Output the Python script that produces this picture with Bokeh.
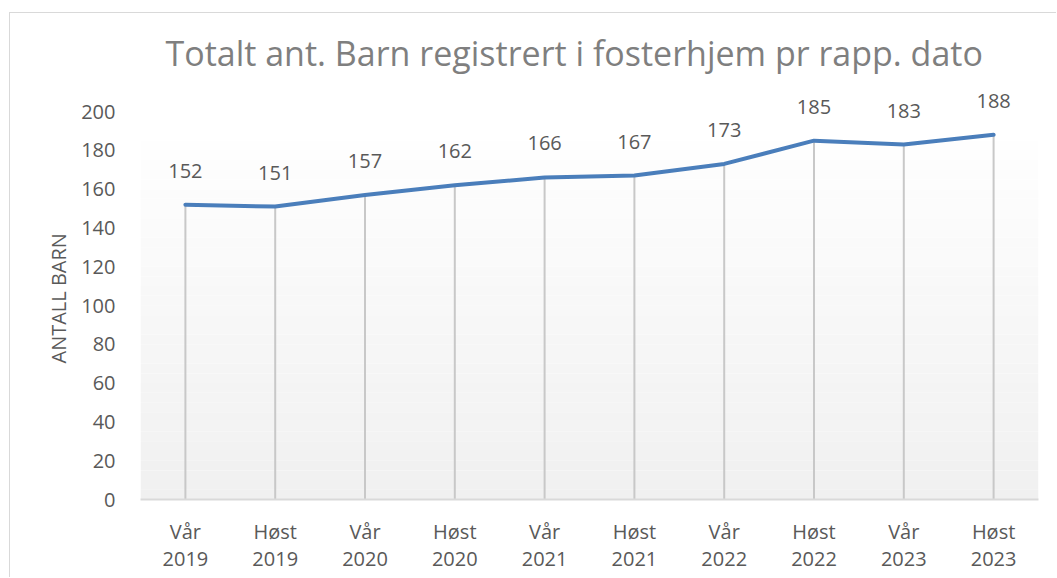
from bokeh.plotting import figure
from bokeh.models import (FactorRange, Range1d, BoxAnnotation, FixedTicker,
                          ColumnDataSource, Title)
from bokeh.core.properties import value
from bokeh.embed import file_html
from bokeh.resources import INLINE

# ---- data ----
periods = ["Vår\n2019", "Høst\n2019", "Vår\n2020", "Høst\n2020", "Vår\n2021",
           "Høst\n2021", "Vår\n2022", "Høst\n2022", "Vår\n2023", "Høst\n2023"]
antall_barn = [152, 151, 157, 162, 166, 167, 173, 185, 183, 188]
y_ticks = [0, 20, 40, 60, 80, 100, 120, 140, 160, 180, 200]

title_text = "Totalt ant. Barn registrert i fosterhjem pr rapp. dato"
y_label = "ANTALL BARN"

FONT = "Open Sans"
TXT = "#595959"

src = ColumnDataSource(dict(x=periods, y=antall_barn, zero=[0] * len(periods),
                            lbl=[str(v) for v in antall_barn]))

# y range extends a little above the top tick so the data labels have room
p = figure(width=1047, height=565, x_range=FactorRange(*periods, range_padding=0),
           y_range=Range1d(0, 216), output_backend="svg", toolbar_location=None,
           min_border_left=130, min_border_right=19, min_border_top=67,
           min_border_bottom=79)

p.styles = {"margin-left": "9px", "margin-top": "12px",
            "border-left": "1px solid #d9d9d9", "border-top": "1px solid #d9d9d9"}

# background gradient (style only)
p.background_fill_color = "#ffffff"
steps = 40
for i in range(steps):
    lo = 200 * i / steps
    hi = 200 * (i + 1) / steps
    t = min(1.0, (lo + hi) / 2 / 192)
    c = int(round(0xF0 + (0xFF - 0xF0) * t))
    col = "#%02x%02x%02x" % (c, c, c)
    p.add_layout(BoxAnnotation(bottom=lo, top=hi, fill_color=col, fill_alpha=1.0,
                               line_alpha=0, level="underlay"))

p.outline_line_color = None
p.border_fill_color = "#ffffff"
p.xgrid.grid_line_color = None
p.ygrid.grid_line_color = None

# drop lines
p.segment(x0="x", y0="zero", x1="x", y1="y", source=src, line_color="#c8c8c8", line_width=2)
# main line
p.line(x="x", y="y", source=src, line_color="#4a7ebb", line_width=4,
       line_join="round", line_cap="round")
# data labels
p.text(x="x", y="y", text="lbl", source=src, y_offset=-34, text_align="center",
       text_baseline="middle", text_font=value(FONT), text_font_size="20px",
       text_color=TXT)

# title
p.title.text = title_text
p.title.text_font = FONT
p.title.text_font_size = "34px"
p.title.text_font_style = "normal"
p.title.text_color = "#7f7f7f"
p.title.align = "left"
p.title.offset = 25
p.title.standoff = 9

# y axis
p.yaxis.ticker = FixedTicker(ticks=y_ticks)
p.yaxis.axis_line_color = None
p.yaxis.major_tick_line_color = None
p.yaxis.minor_tick_line_color = None
p.yaxis.major_label_text_font = FONT
p.yaxis.major_label_text_font_size = "20px"
p.yaxis.major_label_text_color = TXT
p.yaxis.major_label_standoff = 19

# y axis title (centred on the 0-200 value span)
ytitle = Title(text=y_label, align="left", offset=136, standoff=14,
               text_font=FONT, text_font_size="20px", text_font_style="normal",
               text_color=TXT)
p.add_layout(ytitle, "left")

# x axis
p.xaxis.axis_line_color = "#d9d9d9"
p.xaxis.axis_line_width = 2
p.xaxis.major_tick_line_color = None
p.xaxis.minor_tick_line_color = None
p.xaxis.major_label_text_font = FONT
p.xaxis.major_label_text_font_size = "20px"
p.xaxis.major_label_text_color = TXT
p.xaxis.major_label_text_line_height = 1.03
p.xaxis.major_label_standoff = 12

open("out.html", "w").write(file_html(p, INLINE))
